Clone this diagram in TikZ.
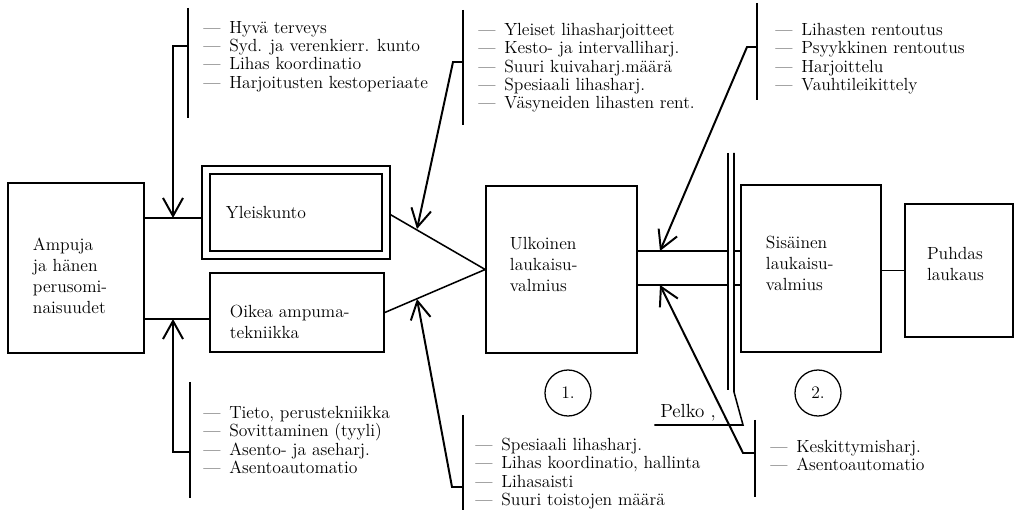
\documentclass[tikz,border=0pt]{standalone}
\usepackage{tikz}
\usetikzlibrary{arrows.meta,positioning}

\newcommand{\bxfont}{\fontsize{12.5}{15}\selectfont}
\newcommand{\lsfont}{\fontsize{12.5}{13}\selectfont}
\newcommand{\lsdash}{—\hspace{0.5em}}

\tikzset{
  box/.style={draw,line width=1.1pt,rectangle,align=left,font=\bxfont},
  list/.style={anchor=north west,inner sep=0pt,align=left,font=\lsfont},
  bar/.style={draw,line width=1.8pt},
  line/.style={draw,line width=1.1pt},
  arr/.style={draw,line width=1.4pt,-{Straight Barb[length=4.5mm,width=5mm]}},
  circ/.style={draw,circle,line width=0.9pt,minimum size=1.15cm,inner sep=0pt,font=\bxfont},
}

\begin{document}
\begin{tikzpicture}[x=0.025cm,y=-0.025cm]
  \useasboundingbox (0,0) rectangle (1032,510);

  % boxes
  \node[box,minimum width=3.4cm,minimum height=4.25cm,text width=2.15cm,inner xsep=0.625cm] (ampuja) at (76,268) {\mbox{}\\[5pt]Ampuja\\ja hänen\\perusomi-\\naisuudet};
  \node[box,double,double distance=4.5pt,minimum width=4.5cm,minimum height=2.125cm,text width=3.5cm,inner xsep=0.5cm] (yleis) at (296,212.5) {Yleiskunto};
  \node[box,minimum width=4.35cm,minimum height=1.975cm,text width=3.35cm,inner xsep=0.5cm] (oikea) at (297,312.5) {\mbox{}\\[7pt]Oikea ampuma-\\tekniikka};
  \node[box,minimum width=3.775cm,minimum height=4.175cm,text width=2.575cm,inner xsep=0.6cm] (ulko) at (561.5,269.5) {Ulkoinen\\laukaisu-\\valmius\\[-8pt]\mbox{}};
  \node[box,minimum width=3.5cm,minimum height=4.175cm,text width=2.25cm,inner xsep=0.625cm] (sis) at (811,268.5) {Sisäinen\\laukaisu-\\valmius\\[-8pt]\mbox{}};
  \node[box,minimum width=2.7cm,minimum height=3.325cm,text width=1.6cm,inner xsep=0.55cm] (puhdas) at (959,270.5) {Puhdas\\laukaus\\[-5pt]\mbox{}};

  \node[circ] (n1) at (568,393) {1.};
  \node[circ] (n2) at (818,393) {2.};

  % lists
  \node[list] (hyva) at (203,21) {\lsdash Hyvä terveys\\\lsdash Syd. ja verenkierr. kunto\\\lsdash Lihas koordinatio\\\lsdash Harjoitusten kestoperiaate};
  \node[list] (yleiset) at (478,23) {\lsdash Yleiset lihasharjoitteet\\\lsdash Kesto- ja intervalliharj.\\\lsdash Suuri kuivaharj.määrä\\\lsdash Spesiaali lihasharj.\\\lsdash Väsyneiden lihasten rent.};
  \node[list] (rento) at (775,23) {\lsdash Lihasten rentoutus\\\lsdash Psyykkinen rentoutus\\\lsdash Harjoittelu\\\lsdash Vauhtileikittely};
  \node[list] (tieto) at (203,406) {\lsdash Tieto, perustekniikka\\\lsdash Sovittaminen (tyyli)\\\lsdash Asento- ja aseharj.\\\lsdash Asentoautomatio};
  \node[list] (spes) at (475,438) {\lsdash Spesiaali lihasharj.\\\lsdash Lihas koordinatio, hallinta\\\lsdash Lihasaisti\\\lsdash Suuri toistojen määrä};
  \node[list] (kesk) at (770,440) {\lsdash Keskittymisharj.\\\lsdash Asentoautomatio};
  \node[anchor=south west,inner sep=0pt,font=\fontsize{13.5}{15}\selectfont] (pelko) at (660,421) {Pelko ,};

  % junctions on the bars and arrow tips
  \coordinate (jA) at (188,46);
  \coordinate (jB) at (463,62);
  \coordinate (jC) at (757,47);
  \coordinate (jD) at (190,452);
  \coordinate (jE) at (463,487);
  \coordinate (jF) at (755,453);
  \coordinate (tA) at (173,218);
  \coordinate (tD) at (173,319);
  \coordinate (tB) at (417,229);
  \coordinate (tE) at (417,299);
  \coordinate (tC) at (660,251);
  \coordinate (tF) at (660,285);
  \coordinate (railL) at (728,153);
  \coordinate (railR) at (734,153);
  \coordinate (pk) at (743,425);

  % connections
  \draw[line,shorten >=3pt] (ampuja.east |- tA) -- (yleis.west |- tA);
  \draw[line] (ampuja.east |- tD) -- (oikea.west |- tD);
  \draw[line,shorten <=3pt] (yleis.east) -- (ulko.west) -- (oikea.east);
  \draw[line] (ulko.east |- tC) -- (railL |- tC);
  \draw[line] (ulko.east |- tF) -- (railL |- tF);
  \draw[line] (railR |- tC) -- (sis.west |- tC);
  \draw[line] (railR |- tF) -- (sis.west |- tF);
  \draw[line] (railL) -- (railL |- 0,390);
  \draw[line] (railR) -- (railR |- 0,392) -- (pk) -- ([xshift=-4pt]pelko.south west |- pk);
  \draw[line] (sis.east |- puhdas.west) -- (puhdas.west);

  % bars
  \draw[bar] (jA |- 0,8) -- (jA |- 0,118);
  \draw[bar] (jB |- 0,10) -- (jB |- 0,125);
  \draw[bar] (jC |- 0,3) -- (jC |- 0,100);
  \draw[bar] (jD |- 0,382) -- (jD |- 0,498);
  \draw[bar] (jE |- 0,415) -- (jE |- 0,510);
  \draw[bar] (jF |- 0,420) -- (jF |- 0,497);

  % arrows
  \draw[arr] (jA) -| (tA);
  \draw[arr] (jD) -| (tD);
  \draw[arr] (jB) -- ++(-10,0) -- (tB);
  \draw[arr] (jE) -- ++(-11,0) -- (tE);
  \draw[arr] (jC) -- ++(-10,0) -- (tC);
  \draw[arr] (jF) -- ++(-12,0) -- (tF);
\end{tikzpicture}
\end{document}
